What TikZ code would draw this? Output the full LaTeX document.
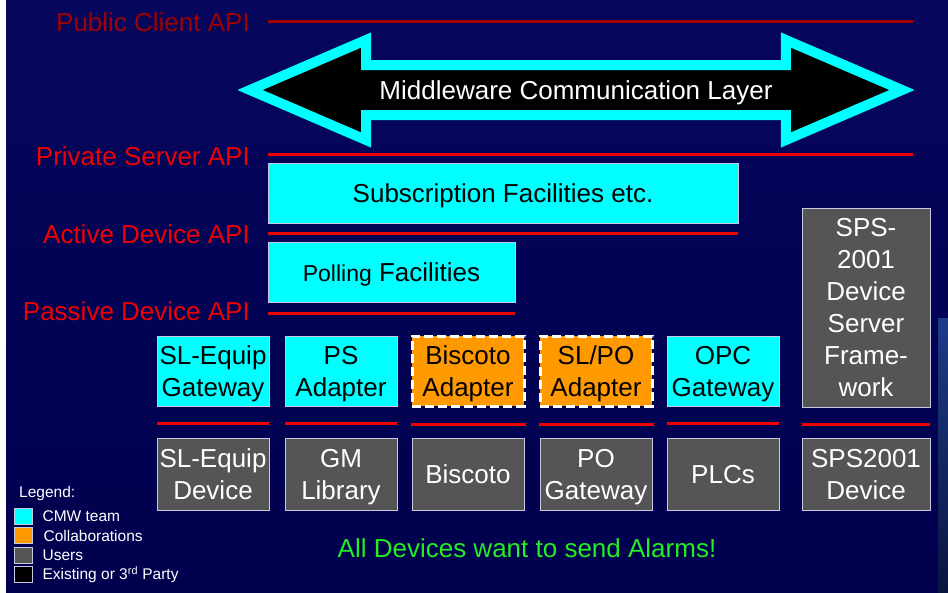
\documentclass[tikz,border=0pt]{standalone}
\usepackage{fontspec}
\setmainfont{Liberation Sans}
\usepackage{xcolor}
\usetikzlibrary{shapes.arrows}
\usetikzlibrary{positioning}

\definecolor{apired}{HTML}{F00000}
\definecolor{apidark}{HTML}{A00000}
\definecolor{cmwcyan}{HTML}{00FFFF}
\definecolor{collorange}{HTML}{FF9900}
\definecolor{usergrey}{HTML}{555555}
\definecolor{boxedge}{HTML}{C8C8E0}
\definecolor{alarmgreen}{HTML}{22EE22}
\definecolor{bgtop}{HTML}{06065C}
\definecolor{bgmid}{HTML}{000098}
\definecolor{bgbot}{HTML}{00004E}

\begin{document}
\begin{tikzpicture}[x=1pt, y=-1pt,
  api/.style={anchor=east, text=apired, inner sep=0pt, font=\fontsize{26}{30}\selectfont},
  apiline/.style={draw=apired, line width=3pt},
  cmw/.style={rectangle, draw=boxedge, line width=0.8pt, fill=cmwcyan, text=black, align=center, inner sep=0pt, text depth=-2pt, font=\fontsize{26}{32}\selectfont},
  collab/.style={cmw, fill=collorange, draw=white, line width=3pt, dash pattern=on 9pt off 4pt},
  user/.style={cmw, fill=usergrey, text=white},
  mclarrow/.style={double arrow, draw=cmwcyan, fill=black, line width=10pt, outer sep=0pt, text=white, font=\fontsize{26}{30}\selectfont,
    text height=20.8pt, text depth=2.2pt, inner ysep=8.5pt, inner xsep=4pt, minimum height=652pt,
    double arrow head extend=25pt, double arrow tip angle=46.6},
  legbox/.style={rectangle, draw=boxedge, line width=0.8pt, minimum width=18pt, minimum height=16pt, inner sep=0pt},
  legtext/.style={text=white, inner sep=0pt, font=\fontsize{15.5}{18}\selectfont}]
\useasboundingbox (0,0) rectangle (948,592);
\fill[white] (0,0) rectangle (948,592);
\shade[top color=bgtop, middle color=bgmid, bottom color=bgbot] (6,0) rectangle (948,592);
\shade[top color={rgb,255:red,30;green,60;blue,136}, bottom color={rgb,255:red,10;green,20;blue,64}] (938,318) rectangle (948,592);

\node[api, text=apidark] (pub) at (250,22) {Public Client API};
\node[api] (priv) at (250,156) {Private Server API};
\node[api] (active) at (250,234) {Active Device API};
\node[api] (passive) at (250,311) {Passive Device API};
\draw[apiline, draw=apidark] (268,21) -- (913,21);
\draw[apiline] (268,154) -- (913,154);
\draw[apiline] (268,233) -- (738,233);
\draw[apiline] (268,313) -- (515,313);

\node[mclarrow] (mcl) at (576,90) {Middleware Communication Layer};

\node[cmw, minimum width=470pt, minimum height=60pt] (subs) at (503,193) {Subscription Facilities etc.};
\node[cmw, minimum width=247pt, minimum height=60pt] (poll) at (391.5,272) {{\fontsize{23}{28}\selectfont Polling} Facilities};

\node[cmw, minimum width=112pt, minimum height=70pt] (eqgw) at (213,371) {SL-Equip\\Gateway};
\node[cmw, minimum width=112pt, minimum height=70pt] (psad) at (341,371) {PS\\Adapter};
\node[collab, minimum width=112pt, minimum height=70pt] (bisad) at (468,371) {Biscoto\\Adapter};
\node[collab, minimum width=112pt, minimum height=70pt] (slpoad) at (596,371) {SL/PO\\Adapter};
\node[cmw, minimum width=112pt, minimum height=70pt] (opcgw) at (723,371) {OPC\\Gateway};
\node[user, minimum width=128pt, minimum height=199pt] (spsfw) at (866,307.5) {SPS-\\2001\\Device\\Server\\Frame-\\work};

\node[user, minimum width=112pt, minimum height=72pt] (eqdev) at (213,474) {SL-Equip\\Device};
\node[user, minimum width=112pt, minimum height=72pt] (gmlib) at (341,474) {GM\\Library};
\node[user, minimum width=112pt, minimum height=72pt] (bis) at (468,474) {Biscoto};
\node[user, minimum width=112pt, minimum height=72pt] (pogw) at (596,474) {PO\\Gateway};
\node[user, minimum width=112pt, minimum height=72pt] (plcs) at (723,474) {PLCs};
\node[user, minimum width=128pt, minimum height=72pt] (spsdev) at (866,474) {SPS2001\\Device};

\foreach \n in {eqgw,psad,bisad,slpoad,opcgw,spsfw}
  \draw[apiline] ([yshift=-17pt]\n.south west) -- ([yshift=-17pt]\n.south east);

\node[text=alarmgreen, font=\fontsize{26}{30}\selectfont] (alarms) at (527,548) {All Devices want to send Alarms!};

\node[legtext, anchor=west] (legend) at (19,493) {Legend:};
\node[legbox, fill=cmwcyan] (legcmw) at (23,516) {};
\node[legbox, fill=collorange] (legcoll) at (23,535.5) {};
\node[legbox, fill=usergrey] (leguser) at (23,555) {};
\node[legbox, fill=black] (legext) at (23,574.5) {};
\node[legtext, right=10pt of legcmw] {CMW team};
\node[legtext, right=11pt of legcoll] {Collaborations};
\node[legtext, right=10pt of leguser] {Users};
\node[legtext, right=10pt of legext] {Existing or 3\textsuperscript{rd} Party};
\end{tikzpicture}
\end{document}
